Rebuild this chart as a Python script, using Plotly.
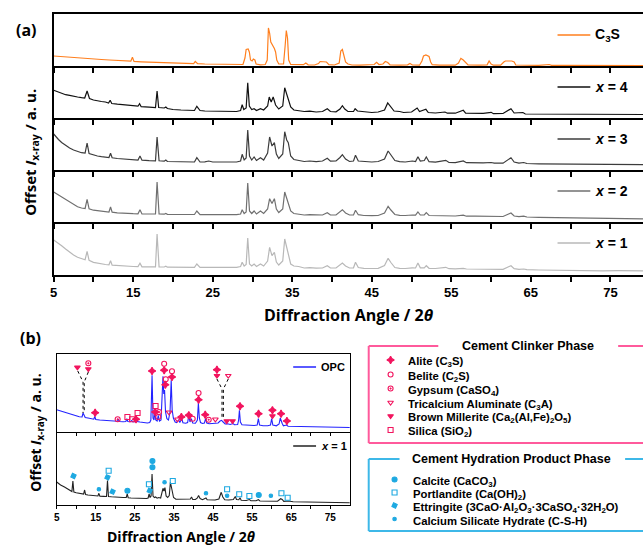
import plotly.graph_objects as go

W, H = 643, 548

# ---------------- data (2theta, intensity a.u. per panel) ----------------
C3S = [(5.0, 10), (6, 9.3), (7, 8.6), (8, 8), (9, 7.5), (10, 7), (11, 6.5), (12, 6), (13, 5.5), (14, 5),
       (14.7, 4.8), (14.9, 8.7), (15.1, 4.6), (16, 4.2), (17, 3.8), (18, 3.5), (19, 3.2), (20, 2.9), (21, 2.6),
       (22, 2.4), (22.6, 2.3), (22.8, 4.5), (23.1, 2.3), (24, 2), (25, 1.8), (26, 1.6), (27, 1.5), (28, 1.4),
       (28.8, 1.5), (29.05, 8), (29.2, 16.5), (29.45, 17), (29.6, 14), (29.75, 6), (29.95, 5), (30.1, 7),
       (30.3, 6), (30.45, 2), (31, 1.2), (31.6, 1.5), (31.85, 6), (32.0, 38), (32.15, 33), (32.3, 24),
       (32.45, 22), (32.6, 19), (32.75, 17.5), (32.9, 14), (33.05, 6), (33.3, 2), (33.9, 2), (34.1, 20),
       (34.25, 35.5), (34.4, 28), (34.55, 6), (34.8, 1.5), (35.5, 1.2), (36.4, 1.3), (36.7, 3), (37.0, 1.2),
       (37.8, 1), (38.3, 2.5), (38.5, 4.5), (39.0, 4.5), (39.3, 4), (39.6, 1.3), (40.3, 1), (40.9, 3),
       (41.1, 15), (41.3, 16.5), (41.5, 10), (41.7, 4), (42.0, 2), (42.5, 1), (43.5, 0.8), (44.5, 0.8),
       (45.3, 1.5), (45.6, 3.7), (45.9, 1.5), (46.4, 2), (46.7, 4.5), (47.0, 3.5), (47.3, 1), (48.5, 0.8),
       (49.5, 1.2), (49.8, 2.5), (50.1, 1), (51.0, 0.8), (51.3, 5), (51.5, 10), (51.8, 11), (52.2, 9.5),
       (52.4, 4), (52.6, 1.3), (53.5, 0.8), (54.5, 1), (55.5, 0.8), (55.9, 3), (56.2, 7.7), (56.5, 6),
       (56.8, 3), (57.1, 1), (58.5, 0.8), (59.5, 1.2), (59.75, 5), (60.0, 2), (60.3, 0.8), (61.2, 0.8),
       (61.6, 4), (61.8, 5), (62.6, 5), (62.9, 4), (63.1, 1), (64.5, 0.7), (66, 0.7), (67.3, 1.5),
       (67.6, 0.6), (69, 0.6), (72, 0.5), (75, 0.5), (79.1, 0.5)]

X4 = [(5.0, 27.7), (5.5, 26), (6.0, 24.8), (6.5, 23.3), (7.0, 22.7), (7.5, 21.5), (8.0, 21), (8.5, 20.3),
      (8.9, 20), (9.2, 27), (9.5, 19.5), (10.0, 18), (10.5, 17.6), (11.0, 16.5), (11.5, 16), (11.9, 15),
      (12.1, 17.7), (12.3, 14.5), (13, 13.8), (14, 12.8), (15, 12), (15.6, 11.8), (15.8, 14.3), (16.0, 11.3),
      (17, 10.8), (17.8, 10.5), (18.0, 27), (18.2, 10.5), (18.9, 10), (19.1, 11), (19.3, 9.5), (20, 8.5),
      (21, 8), (22, 7.5), (22.7, 7.5), (23.0, 11.7), (23.4, 7.5), (24, 7), (25, 6.8), (26, 6.5), (27, 6.6),
      (28, 6.5), (28.5, 7.5), (28.7, 13.3), (28.9, 8.5), (29.2, 10), (29.4, 35.3), (29.6, 12), (29.9, 8.5),
      (30.2, 9.3), (30.5, 7.5), (31.0, 9.3), (31.4, 8), (31.9, 12), (32.1, 21), (32.35, 16), (32.6, 21),
      (32.9, 13), (33.3, 9), (33.8, 12), (34.05, 30.3), (34.3, 24), (34.5, 21), (34.8, 11), (35.2, 8),
      (35.8, 7.5), (36.5, 6.5), (37.2, 6.8), (38.0, 6), (38.8, 6.5), (39.4, 9.3), (39.8, 6.5), (40.5, 6.2),
      (41.0, 9), (41.3, 12.3), (41.6, 9), (42.0, 6.5), (42.7, 6.5), (42.9, 9.3), (43.2, 7), (44.0, 6),
      (45.0, 5.5), (45.8, 6), (46.6, 8), (47.0, 15), (47.3, 12), (47.8, 7), (48.5, 6.5), (49.0, 5.5),
      (50.0, 6), (50.7, 10), (51.0, 6.5), (51.8, 8.7), (52.1, 5.5), (53, 5), (54.2, 6), (54.5, 4.8),
      (55.5, 4.8), (56.5, 7.7), (56.8, 4.8), (58, 4.5), (59, 4.7), (60, 5.7), (60.3, 4.3), (61.5, 4.5),
      (62.2, 8), (62.5, 9.3), (62.9, 5), (64.0, 5.5), (64.3, 4), (66, 4), (68, 3.8), (70, 3.9), (72, 4),
      (74, 3.6), (76, 3.8), (78, 3.4), (79.1, 3.5)]

X3 = [(5.0, 36), (5.3, 33), (5.6, 30.5), (6.0, 27.5), (6.5, 24.5), (7.0, 22), (7.5, 20), (8.0, 18.5),
      (8.5, 17.3), (8.95, 16.8), (9.2, 27), (9.45, 16.5), (10.0, 14.8), (10.5, 14), (11.0, 13.3), (11.5, 12.8),
      (11.95, 12.5), (12.15, 16.7), (12.35, 12.2), (13, 11.5), (14, 10.7), (15, 10.2), (15.6, 10),
      (15.85, 14), (16.1, 9.8), (17, 9.3), (17.8, 9.2), (18.0, 33), (18.25, 9.2), (18.9, 8.8), (19.1, 10),
      (19.3, 8.5), (20, 8.3), (21, 8), (22, 7.8), (22.7, 8), (23.0, 12.3), (23.4, 8), (24, 8.2), (24.5, 9),
      (25, 8), (26, 7.8), (27, 7.8), (28, 8), (28.5, 9), (28.7, 15.7), (28.95, 10), (29.2, 12), (29.4, 40),
      (29.62, 14), (29.9, 10), (30.2, 13), (30.5, 9.5), (31.0, 12.3), (31.4, 10), (31.9, 17), (32.15, 33),
      (32.45, 24), (32.75, 27.3), (33.0, 16), (33.3, 11.5), (33.8, 16), (34.05, 38.3), (34.3, 30),
      (34.5, 27.3), (34.8, 14), (35.2, 10.5), (35.8, 9.5), (36.5, 8.5), (37.2, 9), (38.0, 8.3), (38.8, 9),
      (39.4, 11.7), (39.8, 8.8), (40.5, 9), (41.0, 12.5), (41.3, 15.3), (41.7, 11), (42.2, 8.5), (42.7, 9),
      (42.95, 14.7), (43.3, 9), (44.0, 8.3), (45.0, 8), (45.8, 8.5), (46.6, 11), (47.05, 19), (47.4, 15),
      (47.9, 9.5), (48.5, 8.3), (49.2, 8), (50.1, 9), (50.5, 8.5), (50.8, 13.3), (51.1, 9), (51.6, 9.5),
      (51.85, 13), (52.2, 8.3), (53, 7.8), (54.3, 9.7), (54.7, 7.5), (55.5, 7.3), (56.5, 9), (56.9, 7.3),
      (58, 7), (59, 7.2), (60, 7.5), (60.4, 6.8), (61.5, 6.8), (62.2, 10.5), (62.5, 12.3), (62.9, 8),
      (63.5, 6.8), (64.1, 7.5), (64.5, 6.5), (66, 6.2), (68, 6), (70, 5.8), (72, 6.2), (74, 5.6), (76, 5.5),
      (78, 5.3), (79.1, 5.3)]

X2 = [(5.0, 30), (5.5, 27.5), (6.0, 25), (6.5, 22), (7.0, 19.5), (7.5, 17), (8.0, 15.3), (8.5, 14),
      (8.95, 13.5), (9.2, 22.7), (9.45, 13.2), (10.0, 11.8), (10.5, 11.2), (11.0, 10.7), (11.5, 10.3),
      (11.95, 10), (12.15, 15), (12.35, 9.8), (13, 9.2), (14, 8.5), (15, 8.3), (15.6, 8.2), (15.85, 12.3),
      (16.1, 8), (17, 8), (17.8, 8), (18.0, 40), (18.25, 8), (18.9, 7.8), (19.1, 8.5), (19.3, 7.7),
      (20, 7.7), (21, 7.5), (22, 7.5), (22.7, 7.5), (23.0, 11), (23.4, 7.4), (24, 7.5), (25, 7.3), (26, 7.2),
      (27, 7.2), (28, 7.3), (28.5, 8), (28.7, 12.3), (28.95, 8.5), (29.2, 10), (29.4, 39), (29.62, 11),
      (29.9, 8.5), (30.2, 11), (30.5, 8), (31.0, 11), (31.4, 8.5), (31.9, 13), (32.15, 23.3), (32.45, 18.5),
      (32.75, 23.3), (33.0, 13), (33.3, 9.5), (33.8, 13), (34.05, 30), (34.3, 24), (34.5, 20), (34.8, 11),
      (35.2, 8.5), (35.8, 8), (36.5, 7), (37.2, 7.3), (38.0, 6.8), (38.8, 7), (39.4, 9.3), (39.8, 7),
      (40.5, 7), (41.0, 10), (41.3, 12.3), (41.7, 9), (42.2, 7), (42.7, 7), (42.95, 11.7), (43.3, 7.3),
      (44.0, 6.5), (45.0, 6.3), (45.8, 6.5), (46.6, 9), (47.05, 15.7), (47.4, 12), (47.9, 7.5), (48.5, 6.7),
      (49.2, 6.5), (50.1, 7), (50.5, 6.8), (50.8, 10), (51.1, 7), (51.6, 7), (51.85, 9.3), (52.2, 6.5),
      (53, 6.3), (54.3, 6.7), (54.7, 6), (55.5, 6), (56.5, 6.8), (56.9, 5.8), (58, 5.8), (59, 5.8), (60, 5.7),
      (60.4, 5.4), (61.5, 5.5), (62.2, 8), (62.5, 9), (62.9, 6), (63.5, 5.3), (64.1, 5.8), (64.5, 5),
      (66, 4.6), (68, 4.3), (70, 4), (72, 3.8), (74, 3.5), (76, 3.4), (78, 3.3), (79.1, 3.2)]

X1 = [(5.0, 35), (5.3, 33.5), (5.6, 31.5), (6.0, 29.3), (6.5, 26), (7.0, 22.7), (7.5, 20), (8.0, 17.7),
      (8.5, 16.2), (8.95, 15.3), (9.2, 23.7), (9.45, 14.6), (10.0, 12.7), (10.5, 11.8), (11.0, 11),
      (11.5, 10.5), (11.95, 10.2), (12.15, 14.3), (12.35, 9.9), (13, 9.4), (14, 8.7), (15, 8.5), (15.6, 8.4),
      (15.85, 11.7), (16.1, 8.2), (17, 8.2), (17.8, 8.2), (18.0, 41), (18.25, 8.2), (18.9, 8), (19.1, 8.8),
      (19.3, 7.8), (20, 7.7), (21, 7.6), (22, 7.6), (22.7, 7.7), (23.0, 11), (23.4, 7.6), (24, 7.7),
      (25, 7.6), (26, 7.6), (27, 7.6), (28, 7.7), (28.5, 8.5), (28.7, 12.7), (28.95, 9), (29.2, 10.5),
      (29.4, 37), (29.62, 11), (29.9, 9), (30.2, 11), (30.5, 8.5), (31.0, 11), (31.4, 9), (31.9, 14),
      (32.15, 27.7), (32.45, 19.3), (32.75, 22.7), (33.0, 13), (33.3, 10), (33.8, 14), (34.05, 36),
      (34.3, 27), (34.5, 21), (34.8, 11), (35.2, 9), (35.8, 8.5), (36.5, 7), (37.2, 7.3), (38.0, 6.8),
      (38.8, 7), (39.4, 9.3), (39.8, 7), (40.5, 7), (41.0, 10), (41.3, 12), (41.7, 9), (42.2, 7), (42.7, 7.2),
      (42.95, 12.7), (43.3, 7.5), (44.0, 6.7), (45.0, 6.5), (45.8, 6.7), (46.6, 9.5), (47.05, 16.7),
      (47.4, 12.5), (47.9, 7.5), (48.5, 6.7), (49.2, 6.5), (50.1, 7.2), (50.5, 7), (50.8, 12), (51.1, 7.2),
      (51.6, 7.2), (51.85, 9.3), (52.2, 6.7), (53, 6.5), (54.3, 7.7), (54.7, 6.3), (55.5, 6.2), (56.5, 6.7),
      (56.9, 6), (58, 6), (59, 6), (60, 6), (60.4, 5.7), (61.5, 5.7), (62.2, 8.3), (62.5, 9.3), (62.9, 6.3),
      (63.5, 5.7), (64.1, 6), (64.5, 5.3), (66, 5), (68, 4.7), (70, 4.5), (72, 4.6), (74, 4.2), (76, 4.3),
      (78, 4.2), (79.1, 4.2)]

OPC = [(5.0, 22.3), (6, 21), (7, 19.5), (8, 18.3), (9, 17), (10, 16), (10.8, 15.3), (11.5, 15),
       (11.75, 19), (12.0, 17), (12.3, 14.5), (13, 14), (14, 13), (14.5, 12.8), (14.75, 15.5), (15.0, 12.5),
       (16, 12), (17, 11.7), (18, 11.5), (19, 11), (20, 11), (20.5, 10.8), (20.8, 12.5), (21.1, 10.5),
       (22, 10.3), (22.7, 10.5), (22.95, 13.3), (23.2, 10.5), (23.8, 10.3), (24.2, 11.5), (24.5, 10),
       (25.1, 10.5), (25.35, 13.3), (25.6, 10.5), (26.3, 10), (26.9, 9.5), (27.5, 9.3), (28.2, 9),
       (28.8, 9.5), (29.1, 12), (29.4, 56.7), (29.65, 14), (29.9, 12), (30.1, 21), (30.35, 12), (30.7, 11),
       (31.0, 16.7), (31.3, 11), (31.7, 12), (32.0, 35), (32.2, 55.7), (32.4, 38), (32.6, 42), (32.85, 20),
       (33.2, 13.3), (33.6, 12), (34.0, 20), (34.3, 51.7), (34.55, 22), (34.85, 14), (35.3, 10), (35.7, 9.5),
       (36.2, 12.3), (36.5, 9.5), (37.0, 13.3), (37.3, 9.3), (38.0, 8.8), (38.5, 9.5), (38.8, 16.7),
       (39.1, 10), (39.45, 13.3), (39.8, 9), (40.5, 8.8), (41.0, 12), (41.25, 29), (41.5, 14), (41.8, 9.5),
       (42.3, 8.5), (42.8, 9), (43.1, 13.3), (43.4, 9), (44.0, 8.3), (44.8, 8.3), (45.5, 8.5), (46.3, 9),
       (46.8, 11), (47.2, 11.7), (47.6, 10), (48.1, 8), (48.7, 8.2), (49.4, 7.5), (50.1, 8.5), (50.5, 7.3),
       (51.3, 7.5), (51.55, 12), (51.75, 21.7), (52.0, 10), (52.4, 7.2), (53.5, 6.8), (54.5, 6.7),
       (55.5, 6.5), (56.3, 7), (56.6, 13.3), (56.9, 7), (57.8, 6.3), (59, 6.3), (59.7, 7), (60.0, 13.3),
       (60.3, 7), (61.2, 6.2), (61.9, 8), (62.2, 14), (62.45, 10), (62.7, 8.5), (63.0, 6.2), (63.8, 7),
       (64.2, 5.8), (65.5, 5.7), (67, 5.5), (68.5, 5.3), (70, 5), (72, 5), (74, 4.7), (76, 4.8), (78, 4.5),
       (80, 4.5)]

X1B = [(5.0, 23), (5.5, 21.5), (6, 20), (7, 18), (8, 15.5), (8.9, 13.5), (9.15, 24), (9.4, 13), (10, 12.3),
       (11, 11.5), (11.9, 11), (12.15, 15), (12.4, 10.5), (13, 10), (14, 9.5), (15, 9.2), (15.55, 9),
       (15.8, 11.7), (16.05, 8.8), (17, 8.6), (17.75, 8.5), (18.0, 24.5), (18.25, 8.5), (19, 8.2), (20, 8.3),
       (21, 7.8), (22, 7.5), (22.8, 7.5), (23.05, 11), (23.3, 7.3), (24, 7), (25, 6.8), (26, 6.5), (27, 6.3),
       (28, 6.5), (28.4, 7), (28.65, 11), (28.9, 7.5), (29.15, 9), (29.4, 31), (29.65, 9), (30.0, 7.5),
       (30.3, 8), (30.7, 6.8), (31.1, 7.5), (31.6, 7), (31.95, 12), (32.2, 16.7), (32.45, 14), (32.7, 17.3),
       (33.0, 9), (33.4, 7.5), (33.8, 9.5), (34.1, 22.7), (34.35, 18), (34.6, 12), (34.9, 7.5), (35.5, 5.7),
       (36.5, 5.8), (37.5, 5.5), (38.5, 5.5), (39.2, 6), (39.5, 8), (39.8, 5.5), (40.5, 5.5), (41.0, 7),
       (41.3, 9.5), (41.7, 6.5), (42.3, 5.3), (42.9, 6.5), (43.2, 7), (43.5, 5.3), (44.5, 5), (45.5, 5),
       (46.5, 6), (47.1, 12.7), (47.5, 8), (48.0, 5.2), (49, 5), (50.2, 5.5), (50.7, 8.5), (51.0, 5.5),
       (51.6, 5.3), (51.9, 7.2), (52.2, 4.8), (53.5, 4.5), (54.3, 5.5), (54.7, 4.3), (56, 4.2), (56.6, 5.3),
       (57, 4), (58.5, 4), (60, 4.2), (61.5, 3.8), (62.3, 6.3), (62.7, 5.5), (63.1, 3.6), (64.3, 4),
       (65.5, 3.3), (67, 3.2), (69, 3), (71, 3), (73, 2.8), (75, 2.5), (77, 2.4), (80, 2.3)]

SERIES_A = ['C<sub>3</sub>S', '<i>x</i> = 4', '<i>x</i> = 3', '<i>x</i> = 2', '<i>x</i> = 1']
COLORS_A = ['#ff7f1e', '#111111', '#3c3c3c', '#707070', '#b8b8b8']
TICK_VALS = [5, 10, 15, 20, 25, 30, 35, 40, 45, 50, 55, 60, 65, 70, 75]
TICK_TEXT = ['5', '', '15', '', '25', '', '35', '', '45', '', '55', '', '65', '', '75']

# OPC phase markers (2theta, height)
ALITE = [(14.84, 19.3), (25.3, 12.7), (29.4, 61), (30.2, 20), (32.5, 61.7), (32.8, 47.3), (34.5, 55),
         (36.9, 15), (38.8, 16.7), (41.3, 32.3), (43.0, 17.3), (46.0, 62.3), (51.9, 25.7), (56.65, 18.3),
         (60.2, 21.7), (62.4, 18.3), (63.9, 11)]
BELITE = [(31.0, 15), (32.5, 68.3), (32.9, 52.7), (34.5, 60.7), (39.8, 13.3), (41.3, 39)]
GYPSUM = [(13.1, 68.7), (20.6, 12.7), (31.2, 20), (43.9, 12.3)]
C3A = [(33.75, 19.7), (35.9, 12.7), (45.6, 12.7), (48.9, 56.3)]
BROWN = [(10.3, 64.7), (13.1, 63), (46.0, 56.3), (48.5, 11), (50.0, 11), (60.2, 16)]
SILICA = [(23.1, 15), (24.3, 12.7), (25.7, 19), (30.3, 26)]
# hydrated sample markers
CALCITE = [(23.1, 14.3), (29.5, 44), (29.5, 37.7), (56.7, 10)]
PORTLANDITE = [(18.3, 34.3), (28.6, 20.7), (34.7, 24), (48.6, 15.7), (51.7, 10.7), (54.3, 9), (62.5, 11.7),
               (64.1, 7.3)]
ETTRINGITE = [(9.3, 29), (18.0, 27.7), (19.3, 13.3), (28.8, 14.3)]
CSH = [(15.8, 15.7), (32.6, 22.7), (43.2, 11.7), (48.6, 9.3), (59.8, 9.3)]
# dashed guide lines for overlapping reflections
GUIDES = [[(10.4, 61), (11.75, 50), (11.75, 19)], [(13.1, 60), (12.05, 50), (12.05, 19)],
          [(46.0, 53), (47.3, 43), (47.3, 14)], [(48.9, 53), (47.65, 43), (47.65, 14)]]

CLINKER = ['Alite (C<sub>3</sub>S)', 'Belite (C<sub>2</sub>S)', 'Gypsum (CaSO<sub>4</sub>)',
           'Tricalcium Aluminate (C<sub>3</sub>A)',
           'Brown Millerite (Ca<sub>2</sub>(Al,Fe)<sub>2</sub>O<sub>5</sub>)', 'Silica (SiO<sub>2</sub>)']
HYDRATION = ['Calcite (CaCO<sub>3</sub>)', 'Portlandite (Ca(OH)<sub>2</sub>)',
             'Ettringite (3CaO·Al<sub>2</sub>O<sub>3</sub>·3CaSO<sub>4</sub>·32H<sub>2</sub>O)',
             'Calcium Silicate Hydrate (C-S-H)']

PINK = '#f2145e'
PINKBOX = '#ff5a9c'
BLUE = '#1ea9e1'
BLUEBOX = '#3db8e8'

# ---------------- layout helpers ----------------
def px(x):
    return x / W

def py(y):
    return 1 - y / H

fig = go.Figure()
layout = dict(width=W, height=H, margin=dict(l=0, r=0, t=0, b=0), paper_bgcolor='white',
              plot_bgcolor='rgba(0,0,0,0)', showlegend=False, shapes=[], annotations=[])

TICKFONT_A = dict(family='Liberation Sans', size=13, color='black', weight='bold')
TICKFONT_B = dict(family='Liberation Sans', size=10, color='black', weight='bold')

# panel (a)
bounds = [14, 66, 118, 170, 222, 275]
series_a = [C3S, X4, X3, X2, X1]
for i, (data, name, col) in enumerate(zip(series_a, SERIES_A, COLORS_A)):
    k = 5 - i  # axis index: x=1 -> 1 (bottom)
    sx = '' if k == 1 else str(k)
    top, bot = bounds[i], bounds[i + 1]
    fig.add_trace(go.Scatter(x=[d[0] for d in data], y=[d[1] for d in data], mode='lines',
                             line=dict(color=col, width=1.2), xaxis='x' + sx, yaxis='y' + sx))
    layout['xaxis' + sx] = dict(domain=[px(50), 1], range=[5, 79.1], anchor='y' + sx, showgrid=False,
                                zeroline=False, showline=True, linecolor='black', linewidth=1.5,
                                ticks='outside', ticklen=5, tickwidth=1.5, tickcolor='black',
                                tickvals=TICK_VALS, ticktext=TICK_TEXT, showticklabels=(k == 1),
                                tickfont=TICKFONT_A, mirror=(k == 5))
    layout['yaxis' + sx] = dict(domain=[py(bot), py(top)], range=[0, bot - top], anchor='x' + sx,
                                showgrid=False, zeroline=False, showline=True, linecolor='black',
                                linewidth=1.5, showticklabels=False, ticks='')
    ly = top + 21
    layout['shapes'].append(dict(type='line', xref='paper', yref='paper', x0=px(557), x1=px(590),
                                 y0=py(ly), y1=py(ly), line=dict(color=col, width=1.5)))
    layout['annotations'].append(dict(text='<b>' + name + '</b>', x=px(593), y=py(ly),
                                      xref='paper', yref='paper', xanchor='left', yanchor='middle',
                                      showarrow=False,
                                      font=dict(family='Liberation Sans', size=14, color='black')))

# panel (b)
XB = [53, 348]
for k, data, col, top, bot, name in [(6, X1B, '#222222', 432, 505, '<i>x</i> = 1'),
                                     (7, OPC, '#2323ff', 354, 432, 'OPC')]:
    sx = str(k)
    fig.add_trace(go.Scatter(x=[d[0] for d in data], y=[d[1] for d in data], mode='lines',
                             line=dict(color=col, width=1.1), xaxis='x' + sx, yaxis='y' + sx))
    layout['xaxis' + sx] = dict(domain=[px(XB[0]), px(XB[1])], range=[5, 80], anchor='y' + sx, showgrid=False,
                                zeroline=False, showline=True, linecolor='black', linewidth=1.2,
                                ticks='outside', ticklen=3, tickwidth=1, tickcolor='black',
                                tickvals=TICK_VALS, ticktext=TICK_TEXT, showticklabels=(k == 6),
                                tickfont=TICKFONT_B, mirror=(k == 7))
    layout['yaxis' + sx] = dict(domain=[py(bot), py(top)], range=[0, bot - top], anchor='x' + sx,
                                showgrid=False, zeroline=False, showline=True, linecolor='black',
                                linewidth=1.2, mirror=True, showticklabels=False, ticks='')
    ly = top + (13 if k == 7 else 14)
    layout['shapes'].append(dict(type='line', xref='paper', yref='paper', x0=px(291), x1=px(314),
                                 y0=py(ly), y1=py(ly), line=dict(color=col, width=1.5)))
    layout['annotations'].append(dict(text='<b>' + name + '</b>', x=px(317), y=py(ly), xref='paper',
                                      yref='paper', xanchor='left', yanchor='middle', showarrow=False,
                                      font=dict(family='Liberation Sans', size=11, color='black')))

for g in GUIDES:
    fig.add_trace(go.Scatter(x=[p[0] for p in g], y=[p[1] for p in g], mode='lines',
                             line=dict(color='black', width=1, dash='dot'), xaxis='x7', yaxis='y7'))

SYM_OPC = [(ALITE, 'star-diamond', 5.5, PINK, 0), (BELITE, 'circle-open', 5, PINK, 0),
           (GYPSUM, 'circle-open-dot', 5, PINK, 0), (C3A, 'triangle-down-open', 5, PINK, 0),
           (BROWN, 'triangle-down', 5, PINK, 0), (SILICA, 'square-open', 5, PINK, 0)]
SYM_HYD = [(CALCITE, 'circle', 5, BLUE, 0), (PORTLANDITE, 'square-open', 5, BLUE, 0),
           (ETTRINGITE, 'square', 4, BLUE, 25), (CSH, 'circle', 3.5, BLUE, 0)]
for pts, sym, size, col, ang in SYM_OPC:
    fig.add_trace(go.Scatter(x=[p[0] for p in pts], y=[p[1] for p in pts], mode='markers',
                             marker=dict(symbol=sym, size=size, color=col, angle=ang,
                                         line=dict(color=col, width=1.1)), xaxis='x7', yaxis='y7'))
for pts, sym, size, col, ang in SYM_HYD:
    fig.add_trace(go.Scatter(x=[p[0] for p in pts], y=[p[1] for p in pts], mode='markers',
                             marker=dict(symbol=sym, size=size, color=col, angle=ang,
                                         line=dict(color=col, width=1.1)), xaxis='x6', yaxis='y6'))

# overlay pixel axes for legend-box markers
layout['xaxis8'] = dict(domain=[0, 1], range=[0, W], visible=False, anchor='y8', fixedrange=True)
layout['yaxis8'] = dict(domain=[0, 1], range=[H, 0], visible=False, anchor='x8', fixedrange=True)

ITEMFONT = dict(family='Liberation Sans', size=11.3, color='black')
CL_Y = [362, 376.5, 390.5, 404.5, 418, 432]
for (pts, sym, size, col, ang), ty, txt in zip(SYM_OPC, CL_Y, CLINKER):
    fig.add_trace(go.Scatter(x=[389], y=[ty - 2], mode='markers',
                             marker=dict(symbol=sym, size=size, color=col, angle=ang,
                                         line=dict(color=col, width=1.1)), xaxis='x8', yaxis='y8'))
    layout['annotations'].append(dict(text='<b>' + txt + '</b>', x=px(405), y=py(ty), xref='paper',
                                      yref='paper', xanchor='left', yanchor='middle', showarrow=False,
                                      font=ITEMFONT))
HY_Y = [481.5, 494.5, 507.5, 521]
for (pts, sym, size, col, ang), ty, txt in zip(SYM_HYD, HY_Y, HYDRATION):
    fig.add_trace(go.Scatter(x=[393], y=[ty - 2], mode='markers',
                             marker=dict(symbol=sym, size=size, color=col, angle=ang,
                                         line=dict(color=col, width=1.1)), xaxis='x8', yaxis='y8'))
    layout['annotations'].append(dict(text='<b>' + txt + '</b>', x=px(410), y=py(ty), xref='paper',
                                      yref='paper', xanchor='left', yanchor='middle', showarrow=False,
                                      font=ITEMFONT))

# legend boxes
def seg(x0, y0, x1, y1, col):
    layout['shapes'].append(dict(type='line', xref='paper', yref='paper', x0=px(x0), x1=px(x1),
                                 y0=py(y0), y1=py(y1), line=dict(color=col, width=2)))

seg(367, 346, 437, 346, PINKBOX); seg(618, 346, 660, 346, PINKBOX)
seg(367, 346, 367, 443, PINKBOX); seg(367, 443, 660, 443, PINKBOX)
seg(367, 459, 398, 459, BLUEBOX); seg(625, 459, 660, 459, BLUEBOX)
seg(367, 459, 367, 531, BLUEBOX); seg(367, 531, 660, 531, BLUEBOX)

for txt, x, y in [('Cement Clinker Phase', 527, 346), ('Cement Hydration Product Phase', 511, 459)]:
    layout['annotations'].append(dict(text='<b>' + txt + '</b>', x=px(x), y=py(y), xref='paper', yref='paper',
                                      xanchor='center', yanchor='middle', showarrow=False,
                                      font=dict(family='Liberation Sans', size=12.5, color='black')))

for txt, x, y, size, ang in [('(a)', 23, 30, 16, 0), ('(b)', 27, 338, 16, 0),
                             ('Diffraction Angle / 2<i>θ</i>', 347, 315, 16, 0),
                             ('Diffraction Angle / 2<i>θ</i>', 178, 536, 14, 0),
                             ('Offset <i>I</i><sub>x-ray</sub> / a. u.', 27, 152, 15, -90),
                             ('Offset <i>I</i><sub>x-ray</sub> / a. u.', 32, 432, 14, -90)]:
    layout['annotations'].append(dict(text=txt, x=px(x), y=py(y), xref='paper', yref='paper',
                                      xanchor='center', yanchor='middle', showarrow=False, textangle=ang,
                                      font=dict(family='Open Sans', size=size, color='black', weight='bold')))

fig.update_layout(**layout)
fig.write_html('out.html')
